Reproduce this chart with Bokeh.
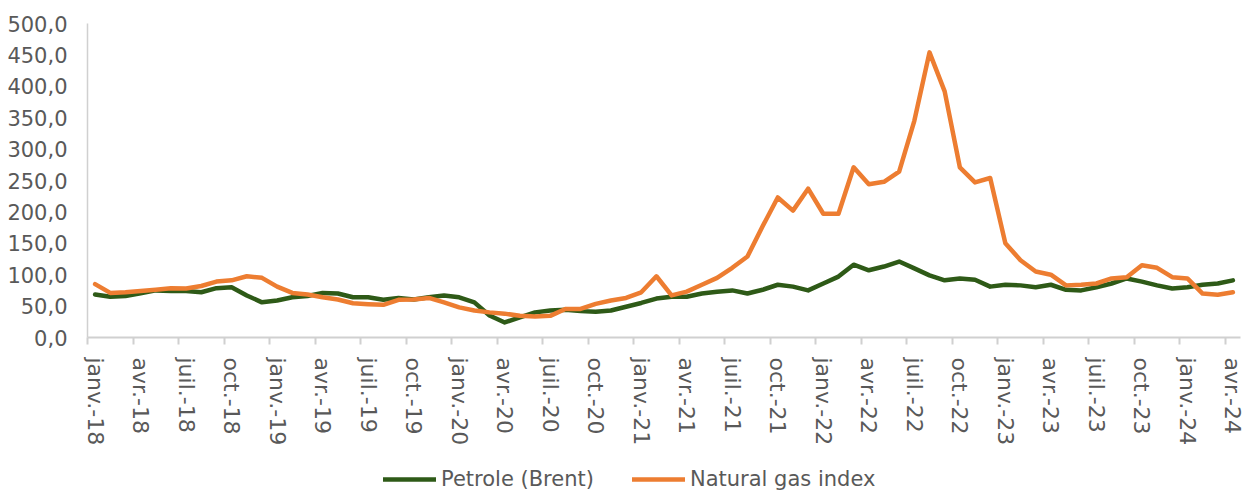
from bokeh.plotting import figure
from bokeh.layouts import column
from bokeh.models import (Range1d, LinearAxis, FixedTicker, Legend, LegendItem,
                          ColumnDataSource)
from bokeh.embed import file_html
from bokeh.resources import INLINE

# ---------------- data (monthly, janv. 2018 -> avr. 2024) ----------------
brent = [68.5, 65, 66, 70.5, 75, 74, 74, 72, 78.5, 80, 67, 56,
         59, 64, 66, 71, 70, 64, 64, 60, 63, 60.5, 64, 67,
         64, 56, 35, 24, 32, 40, 43, 44, 42, 41, 43, 49,
         55, 62, 65, 65, 70, 73, 75, 70, 76, 84, 81, 75,
         86, 97, 116, 107, 113, 121, 110, 99, 91, 94, 92, 81,
         84, 83, 80, 84, 76, 75, 80, 86, 94, 89, 83, 78,
         80, 84, 86, 91]
gas = [85, 71, 72, 74, 76, 78.5, 78, 82, 89, 91, 97.5, 95,
       81, 71, 68.5, 64, 60.5, 54.5, 53, 52, 60, 60.5, 63, 56,
       48, 43, 40, 38, 34.5, 33.5, 34.5, 45.5, 45.5, 53.5, 59, 63,
       72, 97.5, 67, 73, 84, 95, 111, 129, 177, 223, 202, 237,
       197, 197, 271, 244, 248, 264, 345, 454, 392, 271, 247, 254,
       150, 123, 105, 100, 83, 84, 86, 94, 96, 115, 111, 96,
       94, 70, 68, 72]
x_tick_labels = ["janv.-18", "avr.-18", "juil.-18", "oct.-18",
                 "janv.-19", "avr.-19", "juil.-19", "oct.-19",
                 "janv.-20", "avr.-20", "juil.-20", "oct.-20",
                 "janv.-21", "avr.-21", "juil.-21", "oct.-21",
                 "janv.-22", "avr.-22", "juil.-22", "oct.-22",
                 "janv.-23", "avr.-23", "juil.-23", "oct.-23",
                 "janv.-24", "avr.-24"]
y_ticks = [0, 50, 100, 150, 200, 250, 300, 350, 400, 450, 500]
y_tick_labels = ["0,0", "50,0", "100,0", "150,0", "200,0", "250,0",
                 "300,0", "350,0", "400,0", "450,0", "500,0"]
series_names = ["Petrole (Brent)", "Natural gas index"]

# ---------------- styling ----------------
FONT = "DejaVu Sans"
TXT = "#595959"
AX = "#D0D0D0"
GREEN = "#2E5A17"
ORANGE = "#ED7D31"
LW = 4.5

n = len(brent)
idx = list(range(n))
src = ColumnDataSource(dict(x=idx, brent=brent, gas=gas))

H1 = 462
p = figure(width=1247, height=H1, output_backend="svg", toolbar_location=None,
           x_range=Range1d(-0.5, n - 0.5), y_range=Range1d(0, 500),
           min_border_left=87, min_border_right=7, min_border_top=23,
           min_border_bottom=H1 - 337)
p.outline_line_color = None
p.xgrid.visible = False
p.ygrid.visible = False

# y axis
ya = p.yaxis[0]
ya.ticker = FixedTicker(ticks=y_ticks)
ya.major_label_overrides = {t: l for t, l in zip(y_ticks, y_tick_labels)}
ya.major_tick_line_color = None
ya.minor_tick_line_color = None
ya.major_tick_out = 0
ya.major_tick_in = 0
ya.axis_line_color = AX
ya.axis_line_width = 1.5
ya.major_label_standoff = 20
ya.major_label_text_font = FONT
ya.major_label_text_font_size = "21px"
ya.major_label_text_color = TXT

# x axis with tick marks at category boundaries (no labels)
xa = p.xaxis[0]
bounds = [i - 0.5 for i in range(0, n + 1, 3)]
xa.ticker = FixedTicker(ticks=bounds)
xa.major_label_overrides = {b: "" for b in bounds}
xa.major_label_standoff = 0
xa.major_tick_out = 7
xa.major_tick_in = 0
xa.major_tick_line_color = AX
xa.major_tick_line_width = 2
xa.minor_tick_line_color = None
xa.axis_line_color = AX
xa.axis_line_width = 2
xa.major_label_text_font_size = "1px"

# x axis with labels at category centres
centers = list(range(0, n, 3))
xl = LinearAxis(ticker=FixedTicker(ticks=centers),
                major_label_overrides={c: l for c, l in zip(centers, x_tick_labels)},
                axis_line_color=None, major_tick_line_color=None,
                minor_tick_line_color=None, major_tick_out=0, major_tick_in=0,
                major_label_orientation="vertical", major_label_standoff=13,
                major_label_text_font=FONT, major_label_text_font_size="22px",
                major_label_text_color=TXT)
p.add_layout(xl, "below")

p.line("x", "brent", source=src, line_color=GREEN, line_width=LW,
       line_join="round", line_cap="round")
p.line("x", "gas", source=src, line_color=ORANGE, line_width=LW,
       line_join="round", line_cap="round")

# ---------------- legend strip (separate figure underneath) ----------------
H2 = 491 - H1
q = figure(width=1247, height=H2, output_backend="svg", toolbar_location=None,
           x_range=Range1d(-0.5, n - 0.5), y_range=Range1d(-1000, -999),
           x_axis_location=None, y_axis_location=None, min_border=0)
q.outline_line_color = None
q.grid.visible = False
l1 = q.line("x", "brent", source=src, line_color=GREEN, line_width=LW,
            line_cap="round")
l2 = q.line("x", "gas", source=src, line_color=ORANGE, line_width=LW,
            line_cap="round")
legend = Legend(items=[LegendItem(label=series_names[0], renderers=[l1]),
                       LegendItem(label=series_names[1], renderers=[l2])],
                orientation="horizontal", location=(296, 0),
                padding=0, margin=0, spacing=38, glyph_width=53,
                label_standoff=5, border_line_color=None,
                background_fill_alpha=0, label_text_font=FONT,
                label_text_font_size="21px", label_text_color=TXT)
q.add_layout(legend, "center")

open("out.html", "w").write(file_html(column(p, q, spacing=0), INLINE))
